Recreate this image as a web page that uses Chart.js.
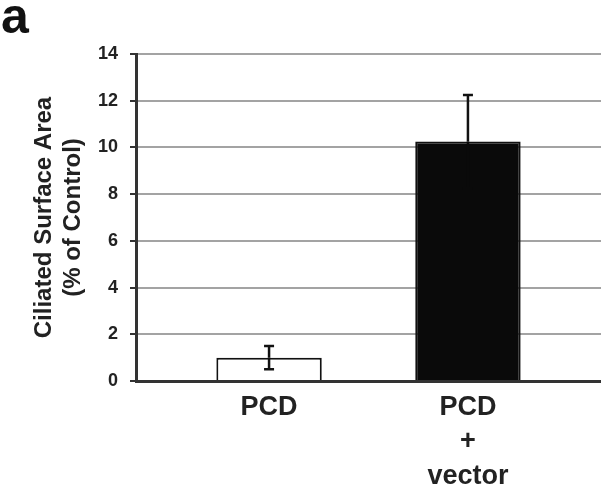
<!DOCTYPE html>
<html>
<head>
<meta charset="utf-8">
<script src="https://cdn.jsdelivr.net/npm/chart.js@4/dist/chart.umd.min.js"></script>
<style>
  html, body { margin: 0; padding: 0; background: #fff; }
  #wrap { position: relative; width: 601px; height: 490px; }
  #panel { position: absolute; left: 1px; top: -9px; font: bold 50px "Liberation Sans", Arial, sans-serif; line-height: 50px; color: #111; }
</style>
</head>
<body>
<div id="wrap">
  <canvas id="chart" width="601" height="490"></canvas>
  <div id="panel">a</div>
</div>
<script>
// chart values
const categories = [["PCD"], ["PCD", "+", "vector"]];
const areaValues = [1.0, 10.25];
const areaErrors = [0.5, 2.0];
const barColors = ["#ffffff", "#0a0a0a"];
const yTicks = [0, 2, 4, 6, 8, 10, 12, 14];

const fontFamily = '"Liberation Sans", Arial, sans-serif';

// draws the error bars with the chart's own scales
const errorBars = {
    id: "errorBars",
    afterDatasetsDraw(chart) {
        const ctx = chart.ctx;
        const yScale = chart.scales.y;
        const meta = chart.getDatasetMeta(0);
        ctx.save();
        ctx.lineWidth = 2.5;
        meta.data.forEach((bar, i) => {
            const top = yScale.getPixelForValue(areaValues[i] + areaErrors[i]);
            const mid = yScale.getPixelForValue(areaValues[i]);
            const bottom = yScale.getPixelForValue(areaValues[i] - areaErrors[i]);
            // upper half
            ctx.strokeStyle = "#111";
            ctx.beginPath();
            ctx.moveTo(bar.x, top);
            ctx.lineTo(bar.x, mid);
            ctx.moveTo(bar.x - 5, top);
            ctx.lineTo(bar.x + 5, top);
            ctx.stroke();
            // lower half sits inside the bar, so it blends into a dark fill
            ctx.strokeStyle = barColors[i] === "#ffffff" ? "#111" : barColors[i];
            ctx.beginPath();
            ctx.moveTo(bar.x, mid);
            ctx.lineTo(bar.x, bottom);
            ctx.moveTo(bar.x - 5, bottom);
            ctx.lineTo(bar.x + 5, bottom);
            ctx.stroke();
        });
        ctx.restore();
    }
};

document.addEventListener("DOMContentLoaded", () => {
    const chart = document.getElementById("chart");

    new Chart(chart, {
        type: "bar",
        data: {
            datasets: [{
                data: categories.map((c, i) => ({ x: i, y: areaValues[i] })),
                backgroundColor: barColors,
                borderColor: "#111",
                borderWidth: 2,
                barPercentage: 0.53,
                categoryPercentage: 1
            }]
        },
        options: {
            responsive: false,
            animation: false,
            layout: { padding: { top: 54, right: 0, left: 0, bottom: 0 } },
            plugins: {
                legend: { display: false },
                tooltip: { enabled: false }
            },
            scales: {
                x: {
                    type: "linear",
                    offset: false,
                    min: -0.669,
                    max: 1.669,
                    afterDataLimits: scale => {
                        scale.min = -0.669;
                        scale.max = 1.669;
                    },
                    afterBuildTicks: scale => {
                        scale.ticks = categories.map((c, i) => ({ value: i }));
                    },
                    afterFit: scale => { scale.height = 109; },
                    grid: { display: false, offset: false },
                    border: { display: true, color: "#333", width: 3 },
                    ticks: {
                        autoSkip: false,
                        maxRotation: 0,
                        padding: 2,
                        color: "#222",
                        font: { family: fontFamily, size: 27, weight: "bold", lineHeight: 1.26 },
                        callback: value => categories[value]
                    }
                },
                y: {
                    min: 0,
                    max: 14,
                    afterBuildTicks: scale => {
                        scale.ticks = yTicks.map(v => ({ value: v }));
                    },
                    afterFit: scale => { scale.width = 136; },
                    grid: {
                        color: ctx => ctx.tick && ctx.tick.value === 0 ? "#333" : "#a3a3a3",
                        lineWidth: 2,
                        tickLength: 6,
                        tickColor: "#333",
                        tickWidth: 2
                    },
                    border: { display: true, color: "#333", width: 3 },
                    ticks: {
                        padding: 12,
                        color: "#222",
                        font: { family: fontFamily, size: 18, weight: "bold" }
                    },
                    title: {
                        display: true,
                        text: ["Ciliated Surface Area", "(% of Control)"],
                        color: "#222",
                        padding: { top: 30, bottom: 0 },
                        font: { family: fontFamily, size: 24, weight: "bold", lineHeight: 1.2 }
                    }
                }
            }
        },
        plugins: [errorBars]
    });
});
</script>
</body>
</html>
